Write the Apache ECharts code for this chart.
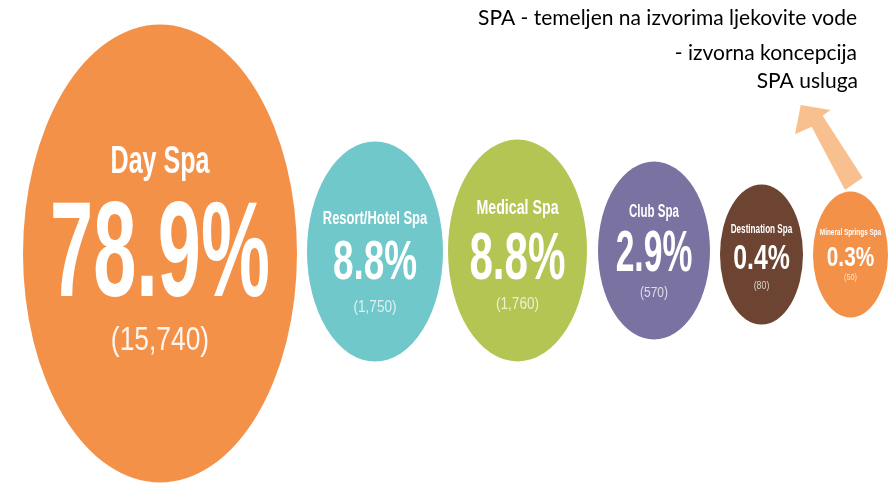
<!DOCTYPE html>
<html>
<head>
<meta charset="utf-8">
<script src="https://cdn.jsdelivr.net/npm/echarts@6/dist/echarts.min.js"></script>
<style>
  html, body { margin: 0; padding: 0; background: #fff; }
  #chart { width: 892px; height: 485px; }
</style>
</head>
<body>
<div id="chart"></div>
<script>
// spa types, share of all spas (%) and number of locations
const categories = ["Day Spa", "Resort/Hotel Spa", "Medical Spa", "Club Spa", "Destination Spa", "Mineral Springs Spa"];
const shares = [78.9, 8.8, 8.8, 2.9, 0.4, 0.3];
const counts = [15740, 1750, 1760, 570, 80, 50];

const noteLines = ["SPA - temeljen na izvorima ljekovite vode", "- izvorna koncepcija", "SPA usluga"];

// look of each bubble: radii, gap before it, vertical shift, text [size, squeeze, offset]
const bubbleStyle = [
  { color: "#f49148", rx: 137, ry: 229, gap: 23, dy: 1, title: [38, 0.66, -91], pct: [136, 0.57, 5], count: [33, 0.8, 87] },
  { color: "#70c8cb", rx: 68, ry: 110, gap: 10, dy: -1, title: [18, 0.72, -32], pct: [56, 0.66, 12], count: [17, 0.8, 56] },
  { color: "#b4c553", rx: 69.5, ry: 111, gap: 5, dy: -2, title: [20, 0.71, -42], pct: [67, 0.63, 10], count: [17, 0.8, 54] },
  { color: "#7a72a0", rx: 56, ry: 89, gap: 11, dy: -2, title: [18, 0.64, -38], pct: [58, 0.58, 4], count: [15, 0.8, 42] },
  { color: "#6d4431", rx: 41.5, ry: 70, gap: 10, dy: 2, title: [12, 0.68, -25], pct: [35, 0.71, 5], count: [11, 0.8, 31] },
  { color: "#f49148", rx: 37.5, ry: 63, gap: 10, dy: 2, title: [8.5, 0.75, -22], pct: [27, 0.77, 4], count: [9, 0.8, 23] }
];

const noteFont = "21px Lato, 'Open Sans', sans-serif";

const chart = echarts.init(document.getElementById("chart"));

function formatCount(value) {
  return "(" + value.toLocaleString("en-US") + ")";
}

function bubbleLeft(index, origin) {
  let x = origin;
  for (let i = 0; i < index; i++) {
    x += bubbleStyle[i].gap + bubbleStyle[i].rx * 2;
  }
  return x + bubbleStyle[index].gap;
}

function textEl(text, cx, cy, spec, weight, fill) {
  return {
    type: "text",
    x: cx,
    y: cy + spec[2],
    scaleX: spec[1],
    style: {
      text: text,
      fill: fill,
      font: weight + " " + spec[0] + "px 'Liberation Sans', Arial, sans-serif",
      align: "center",
      verticalAlign: "middle"
    }
  };
}

function renderBubble(params, api) {
  const i = params.dataIndex;
  const s = bubbleStyle[i];
  const origin = api.coord([0, api.value(1)]);
  const cx = bubbleLeft(i, origin[0]) + s.rx;
  const cy = origin[1] + s.dy;
  return {
    type: "group",
    children: [
      {
        type: "circle",
        x: cx,
        y: cy,
        scaleY: s.ry / s.rx,
        shape: { cx: 0, cy: 0, r: s.rx },
        style: { fill: s.color }
      },
      textEl(categories[i], cx, cy, s.title, "bold", "#ffffff"),
      textEl(api.value(2) + "%", cx, cy, s.pct, "bold", "#ffffff"),
      textEl(formatCount(api.value(3)), cx, cy, s.count, "normal", i === 0 ? "rgba(255,255,255,0.92)" : "rgba(255,255,255,0.75)")
    ]
  };
}

chart.setOption({
  animation: false,
  grid: { left: 0, right: 0, top: 20, bottom: 0 },
  xAxis: { type: "value", min: 0, max: 892, show: false },
  yAxis: { type: "value", min: -1, max: 1, show: false },
  graphic: [
    {
      type: "text",
      left: 478,
      top: 8,
      style: { text: noteLines[0], fill: "#000", font: noteFont }
    },
    {
      type: "text",
      right: 35,
      top: 43,
      style: { text: noteLines[1], fill: "#000", font: noteFont }
    },
    {
      type: "text",
      right: 34,
      top: 71,
      style: { text: noteLines[2], fill: "#000", font: noteFont }
    },
    {
      type: "polygon",
      shape: {
        points: [[800.7, 105], [830.7, 110], [822.7, 115.7], [862.7, 177.7], [845, 190], [811.7, 126.7], [795, 134.3]]
      },
      style: { fill: "#f9c08f" }
    }
  ],
  series: [
    {
      type: "custom",
      renderItem: renderBubble,
      data: categories.map((name, i) => [i, 0, shares[i], counts[i]])
    }
  ]
});
</script>
</body>
</html>
